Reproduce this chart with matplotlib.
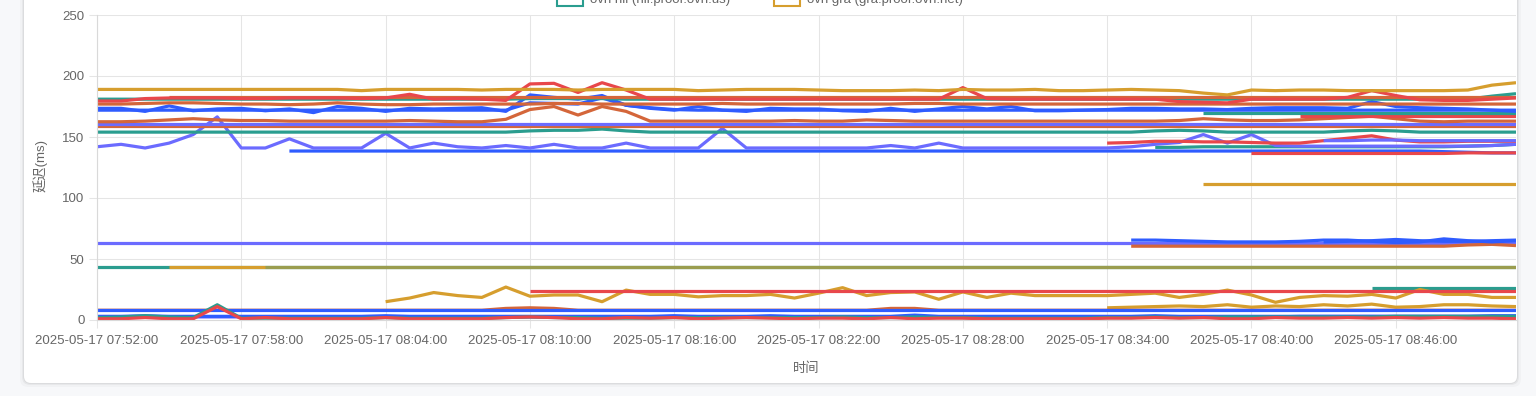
import numpy as np
import pandas as pd
import matplotlib
matplotlib.use("Agg")
import matplotlib.pyplot as plt
from matplotlib.patches import FancyBboxPatch, Rectangle
from matplotlib.transforms import IdentityTransform

plt.rcParams['font.family'] = ['Liberation Sans', 'Noto Sans CJK SC', 'DejaVu Sans']

# one sample per minute; series that start late are aligned to the right end
times = pd.date_range("2025-05-17 07:52:00", "2025-05-17 08:51:00", freq="min")
tick_labels = [t.strftime("%Y-%m-%d %H:%M:%S") for t in times]

legend_names = ["ovh hil (hil.proof.ovh.us)", "ovh gra (gra.proof.ovh.net)"]

GREEN = '#2a9d8f'
GOLD = '#d69e2e'
RED = '#e8474b'
ORANGE = '#d4663a'
BLUE = '#2f5cff'
PURPLE = '#6b6bff'

# ---- upper band (~135-195 ms) ----
gold_189 = [189, 189, 189, 189, 189, 189, 189, 189, 189, 189,
            189, 188, 189, 189, 189, 189, 188.5, 189, 189, 189,
            188.5, 189, 189, 189, 189, 188, 188.5, 189, 189, 189,
            188.5, 188, 188, 188, 188.5, 188, 189, 188.5, 188.5, 189,
            188, 188, 188.5, 189, 188.5, 188, 186, 184.5, 188.5, 188,
            188.5, 188.5, 188, 188, 188, 188, 188, 188.5, 192.5, 194.5]
red_181 = [179.5, 179.5, 181.5, 182, 182, 182, 181.5, 181.5, 182, 182,
           182, 181.5, 182, 185, 181, 181.5, 181, 180, 193.5, 194,
           186.5, 194.5, 188.5, 181, 181, 181, 181, 181, 181, 181,
           181, 181, 181, 181, 181, 181, 190.5, 181.5, 181, 181,
           181, 181, 181, 181, 181, 179, 178.5, 178, 181, 181,
           181, 181, 182.5, 188, 184, 180.5, 180, 180, 181, 182]
orange_183 = [182.5, 182.5, 182.5, 182.5, 182.5, 182.5, 182.5,
              182.5, 182.5, 182.5, 182.5, 182.5, 182.5, 182.5, 182.5, 182.5, 182.5,
              182.5, 182.5, 182.5, 182.5, 182.5, 182.5, 182.5, 182.5, 182.5, 182.5,
              182.5, 182.5, 182.5, 182.5, 182.5, 182.5, 182.5, 182.5, 182.5, 182.5,
              182.5, 182.5, 182.5, 182.5, 182.5, 182.5, 182.5, 182.5, 182.5, 182.5,
              182.5, 182.5, 182.5, 182.5, 182.5, 182.5, 182.5, 182.5, 182.5, 182.5]
green_181 = [181, 181, 181, 181, 181, 181, 181, 181, 181, 181,
             181, 181, 181, 181, 181, 181, 181, 181, 181.5, 181.5,
             181.5, 181.5, 181, 181, 181, 181, 181, 181, 181, 181,
             181, 181, 181, 181, 181, 181, 181, 181, 181, 181,
             181, 181, 181, 181, 181, 181, 181, 181, 181, 181,
             181, 181, 181, 181, 181, 181, 181, 181, 183.5, 185.5]
orange_177 = [177, 177, 177.5, 178, 178, 177.5, 177, 177, 176.5, 177,
              178, 177, 176.5, 176.5, 177, 177, 177, 177, 177, 177.5,
              177.5, 177, 177, 177, 177, 177, 177.5, 177, 177, 177,
              177, 177, 177, 177, 177.5, 177.5, 177, 177, 177, 177,
              177, 177, 177, 177, 177, 177, 177, 177, 177, 177,
              177, 177, 177, 177, 177, 177, 177, 177, 177, 177]
blue_174 = [173.5, 173.5, 171, 175.5, 171.5, 173, 173.5, 171.5, 173, 170,
            175, 173.5, 171, 173.5, 173, 173.5, 174, 171, 184.5, 182.5,
            181, 184, 176, 173.5, 172, 175, 172, 171, 173.5, 173,
            173, 171.5, 171, 173.5, 171, 173, 175, 173, 175, 171.5,
            171.5, 172, 172.5, 173.5, 173.5, 173, 173, 172.5, 173.5, 174,
            174, 174, 173.5, 179, 175, 174, 173.5, 173, 172, 171]
blue_172 = [172, 172, 172, 172, 172, 172, 172, 172, 172, 172,
            172, 172, 172, 172, 172, 172, 172, 172, 178, 177.5,
            177, 182, 176, 174, 172.5, 172, 172, 172, 172, 172,
            172, 172, 172, 172, 172, 172, 172, 172, 172, 172,
            172, 172, 172, 172, 172, 172, 172, 172, 172, 172,
            172, 172, 172, 172, 172, 172, 172, 172, 172, 172]
orange_163 = [162.5, 162.5, 163, 164, 165, 164, 163.5, 163.5, 163, 163,
              163, 163, 163, 163.5, 163, 162.5, 162.5, 164.5, 172.5, 175,
              168, 175, 171, 163, 163, 163, 163, 163, 163, 163.5,
              163, 163, 164, 163.5, 163, 163, 163, 163, 163, 163,
              163, 163, 163, 163, 163, 163.5, 165, 164, 163.5, 163.5,
              164, 165, 166, 167, 165, 163, 162.5, 163, 163, 163]
orange_159 = [159, 159, 159, 159, 159, 159, 159, 159, 159, 159,
              159, 159, 159, 159, 159, 159, 159, 159, 159, 159,
              159, 159, 159, 159, 159, 159, 159, 159, 159, 159,
              159, 159, 159, 159, 159, 159, 159, 159, 159, 159,
              159, 159, 159, 159, 159, 159, 159, 159, 159, 159,
              159, 159, 159, 159, 159, 159, 159, 159, 159, 159]
purple_161 = [161, 161, 161, 161, 161, 161, 161, 161, 161, 161,
              161, 161, 161, 161, 161, 161, 161, 161, 161, 161,
              161, 161, 161, 161, 161, 161, 161, 161, 161, 161,
              161, 161, 161, 161, 161, 161, 161, 161, 161, 161,
              161, 161, 161, 161, 161, 161, 161, 161, 161, 161,
              161, 161, 161, 161, 161, 161, 161, 161, 161, 161]
green_154 = [154, 154, 154, 154, 154, 154, 154, 154, 154, 154,
             154, 154, 154, 154, 154, 154, 154, 154, 155, 155.5,
             155.5, 156.5, 155, 154, 154, 154, 154, 154, 154, 154,
             154, 154, 154, 154, 154, 154, 154, 154, 154, 154,
             154, 154, 154, 154, 155, 155.5, 155, 154, 154, 154,
             154, 154, 155, 155.5, 155, 154, 154, 154, 154, 154]
purple_142 = [142, 144, 141, 145, 152, 166.5, 141, 141, 148.5, 141,
              141, 141, 153, 141, 145, 142, 141, 143, 141, 144,
              141, 141, 145, 141, 141, 141, 157, 141, 141, 141,
              141, 141, 141, 143, 141, 145, 141, 141, 141, 141,
              141, 141, 141, 142, 144, 145.5, 152, 145, 152, 143,
              142.5, 142.5, 142.5, 142.5, 142.5, 142.5, 142.5, 142.5, 143, 144]
blue_139 = [138.5, 138.5, 138.5, 138.5, 138.5, 138.5, 138.5, 138.5, 138.5, 138.5,
            138.5, 138.5, 138.5, 138.5, 138.5, 138.5, 138.5, 138.5, 138.5, 138.5,
            138.5, 138.5, 138.5, 138.5, 138.5, 138.5, 138.5, 138.5, 138.5, 138.5,
            138.5, 138.5, 138.5, 138.5, 138.5, 138.5, 138.5, 138.5, 138.5, 138.5,
            138.5, 138.5, 138.5, 138.5, 138.5, 138.5, 138.5, 138.5, 138, 137.5,
            137, 137]
red_146 = [145, 145.5, 146.5, 146.5, 146, 146, 145.5, 145, 145, 147,
           149, 151, 147.5, 146, 146, 146.5, 146.5, 146.5]
green_142 = [141.5, 141.5, 142, 142, 142, 142, 142, 142, 142, 142,
             142, 142, 142, 142.5, 143, 144]
red_137 = [136.5, 136.5, 136.5, 136.5, 136.5, 136.5, 136.5, 136.5, 136.5, 137, 137, 137]
gold_112 = [111.5, 111.5, 111.5, 111.5, 111.5, 111.5, 111.5,
            111.5, 111.5, 111.5, 111.5, 111.5, 111.5, 111.5]
green_170 = [170, 170, 170, 170, 170, 170, 170, 170, 170, 170, 170, 170, 170, 170]
red_167 = [167, 167, 167, 167, 167, 167, 167, 167, 167, 167]
purple_147 = [147, 147, 147.5, 147.5, 147, 147, 147, 147, 147]

# ---- lower band (0-70 ms) ----
purple_64 = [63.5, 63.5, 63.5, 63.5, 63.5, 63.5, 63.5, 63.5, 63.5, 63.5,
             63.5, 63.5, 63.5, 63.5, 63.5, 63.5, 63.5, 63.5, 63.5, 63.5,
             63.5, 63.5, 63.5, 63.5, 63.5, 63.5, 63.5, 63.5, 63.5, 63.5,
             63.5, 63.5, 63.5, 63.5, 63.5, 63.5, 63.5, 63.5, 63.5, 63.5,
             63.5, 63.5, 63.5, 63.5, 63.5, 63.5, 63.5, 63.5, 63.5, 63.5,
             63.5, 63.5, 63.5, 63.5, 63.5, 63.5, 63.5, 63.5, 63.5, 63.5]
blue_65 = [65.5, 65.5, 65, 64.5, 64, 64, 64, 64.5, 65.5, 65.5,
           64.5, 63.5, 64, 66.5, 65, 64, 65]
blue_65b = [64, 64.5, 65, 66, 65, 64.5, 64.5, 65, 65.5]
orange_61 = [60.5, 60.5, 60.5, 60.5, 60.5, 60.5, 60.5, 60.5, 60.5, 60.5,
             60.5, 60.5, 60.5, 60.5, 61.5, 62, 61]
green_44 = [43.5, 43.5, 43.5, 43.5, 43.5, 43.5, 43.5, 43.5, 43.5, 43.5,
            43.5, 43.5, 43.5, 43.5, 43.5, 43.5, 43.5, 43.5, 43.5, 43.5,
            43.5, 43.5, 43.5, 43.5, 43.5, 43.5, 43.5, 43.5, 43.5, 43.5,
            43.5, 43.5, 43.5, 43.5, 43.5, 43.5, 43.5, 43.5, 43.5, 43.5,
            43.5, 43.5, 43.5, 43.5, 43.5, 43.5, 43.5, 43.5, 43.5, 43.5,
            43.5, 43.5, 43.5, 43.5, 43.5, 43.5, 43.5, 43.5, 43.5, 43.5]
gold_44 = [43.5, 43.5, 43.5, 43.5, 43.5, 43.5, 43.5,
           43.5, 43.5, 43.5, 43.5, 43.5, 43.5, 43.5, 43.5, 43.5, 43.5,
           43.5, 43.5, 43.5, 43.5, 43.5, 43.5, 43.5, 43.5, 43.5, 43.5,
           43.5, 43.5, 43.5, 43.5, 43.5, 43.5, 43.5, 43.5, 43.5, 43.5,
           43.5, 43.5, 43.5, 43.5, 43.5, 43.5, 43.5, 43.5, 43.5, 43.5,
           43.5, 43.5, 43.5, 43.5, 43.5, 43.5, 43.5, 43.5, 43.5, 43.5]
green_44_late = [43.5, 43.5, 43.5,
                 43.5, 43.5, 43.5, 43.5, 43.5, 43.5, 43.5, 43.5, 43.5, 43.5,
                 43.5, 43.5, 43.5, 43.5, 43.5, 43.5, 43.5, 43.5, 43.5, 43.5,
                 43.5, 43.5, 43.5, 43.5, 43.5, 43.5, 43.5, 43.5, 43.5, 43.5,
                 43.5, 43.5, 43.5, 43.5, 43.5, 43.5, 43.5, 43.5, 43.5, 43.5,
                 43.5, 43.5, 43.5, 43.5, 43.5, 43.5, 43.5, 43.5, 43.5, 43.5]
green_27 = [26.5, 26.5, 26.5, 26.5, 26.5, 26.5, 26.5]
red_24 = [23.5, 23.5,
          23.5, 23.5, 23.5, 23.5, 23.5, 23.5, 23.5, 23.5, 23.5, 23.5,
          23.5, 23.5, 23.5, 23.5, 23.5, 23.5, 23.5, 23.5, 23.5, 23.5,
          23.5, 23.5, 23.5, 23.5, 23.5, 23.5, 23.5, 23.5, 23.5, 23.5,
          23.5, 23.5, 23.5, 23.5, 23.5, 23.5, 23.5, 23.5, 23.5, 23.5]
gold_20 = [15, 18, 22.5, 20, 18.5, 27, 19.5, 20.5,
           20.5, 15, 24.5, 21, 21, 19, 20, 20, 21, 18,
           22, 26.5, 20, 22.5, 23, 17, 23, 18.5, 22, 20,
           20, 20, 20, 21, 22, 18.5, 21, 24.5, 20.5, 14.5,
           18.5, 20, 19.5, 21, 18, 25, 21, 21, 18.5, 18.5]
gold_11 = [10, 10.5, 11, 11.5, 11, 12.5, 10.5, 11.5, 11, 12.5,
           11.5, 13, 10.5, 11, 12.5, 12.5, 11.5, 11]
orange_8 = [8, 8, 8, 8, 8, 8, 8, 8, 8, 8,
            8, 8, 8, 8, 8, 8, 8, 9.5, 10, 9.5,
            8, 8, 8, 8, 8, 8, 8, 8, 8, 8,
            8, 8, 8, 9.5, 9.5, 8, 8, 8, 8, 8,
            8, 8, 8, 8, 8, 8, 8, 8, 8, 8,
            8, 8, 8, 8, 8, 8, 8, 8, 8, 8]
blue_8 = [8, 8, 8, 8, 8, 8, 8, 8, 8, 8,
          8, 8, 8, 8, 8, 8, 8, 8, 8, 8,
          8, 8, 8, 8, 8, 8, 8, 8, 8, 8,
          8, 8, 8, 8, 8, 8, 8, 8, 8, 8,
          8, 8, 8, 8, 8, 8, 8, 8, 8, 8,
          8, 8, 8, 8, 8, 8, 8, 8, 8, 8]
purple_low = [2.5, 2.5, 2.5, 2.5, 2.5, 2.5, 2.5, 2.5, 2.5, 2.5,
              2.5, 2.5, 2.5, 2.5, 2.5, 2.5, 2.5, 2.5, 2.5, 2.5,
              2.5, 2.5, 2.5, 2.5, 3, 2.5, 2.5, 2.5, 2.5, 2.5,
              2.5, 2.5, 2.5, 2.5, 2.5, 2.5, 2.5, 2.5, 2.5, 2.5,
              2.5, 2.5, 2.5, 2.5, 2.5, 2.5, 2.5, 2.5, 2.5, 2.5,
              3, 3, 3, 3, 3, 3, 3, 3, 3, 3]
blue_low = [3, 3, 3.5, 3, 3, 3, 3, 3, 3, 3,
            3, 3, 3.5, 3, 3, 3, 3, 3, 3, 3,
            3, 3, 3, 3, 3.5, 3, 3, 3, 3.5, 3,
            3, 3, 3, 3, 4, 3, 3, 3, 3, 3,
            3, 3, 3, 3, 3.5, 3, 3, 3, 3, 3,
            3, 3, 3, 3, 3, 3, 3, 3, 3.5, 3.5]
green_low = [2, 2.5, 3.5, 2.5, 2, 12.5, 1.5, 1.5, 1.5, 1.5,
             1.5, 1.5, 2, 1.5, 1.5, 1.5, 1.5, 2, 2.5, 2,
             2, 1.5, 1.5, 1.5, 2, 2, 2, 2, 2, 2,
             2, 2.5, 2, 2, 2.5, 2, 2, 1.5, 1.5, 1.5,
             1.5, 1.5, 2, 2, 2.5, 2, 2, 2.5, 2.5, 2.5,
             2.5, 2.5, 2.5, 2.5, 3, 3, 3, 3, 3, 3]
red_low = [1, 1, 2, 1, 1, 11, 1, 2, 1, 1,
           1, 1, 2, 1, 1, 1, 1, 2, 2.5, 2,
           1, 1, 2, 1.5, 2, 1, 1.5, 2, 1.5, 1,
           1.5, 1.5, 1, 2, 1, 1.5, 1.5, 1, 1, 1,
           1, 1, 1.5, 1.5, 2, 1.5, 2, 1, 1, 2,
           1.5, 1.5, 2, 1.5, 2, 1.5, 2, 1.5, 1.5, 1]

lines = [
    (purple_64, PURPLE, 1), (orange_61, ORANGE, 1), (blue_65, BLUE, 1), (blue_65b, BLUE, 1),
    (green_44, GREEN, 1), (gold_44, GOLD, 1), (green_44_late, GREEN, 0.35),
    (green_27, GREEN, 1), (gold_20, GOLD, 1), (red_24, RED, 1), (gold_11, GOLD, 1),
    (orange_8, ORANGE, 1), (blue_8, BLUE, 1),
    (purple_low, PURPLE, 1), (blue_low, BLUE, 1), (green_low, GREEN, 1), (red_low, RED, 1),
    (gold_112, GOLD, 1),
    (blue_139, BLUE, 1), (red_137, RED, 1), (green_142, GREEN, 1), (purple_142, PURPLE, 1),
    (red_146, RED, 1), (purple_147, PURPLE, 1),
    (green_154, GREEN, 1), (orange_159, ORANGE, 1), (purple_161, PURPLE, 1), (orange_163, ORANGE, 1),
    (red_167, RED, 1), (green_170, GREEN, 1),
    (blue_172, BLUE, 1), (blue_174, BLUE, 1), (orange_177, ORANGE, 1),
    (green_181, GREEN, 1), (orange_183, ORANGE, 1), (red_181, RED, 1), (gold_189, GOLD, 1),
]

W, H = 1536, 396
FS = 9.5
fig = plt.figure(figsize=(W / 100, H / 100), dpi=100, facecolor='#f7f8fa')

# card with soft shadow, drawn below the axes
for grow, a in [(4, 0.025), (2, 0.04), (1, 0.05)]:
    fig.patches.append(FancyBboxPatch((24 - grow, 13 - grow), 1493 + 2 * grow, 420,
                                      boxstyle="round,pad=0,rounding_size=8",
                                      transform=IdentityTransform(), fc='black', ec='none',
                                      alpha=a, zorder=-2))
fig.patches.append(FancyBboxPatch((24, 13), 1493, 420, boxstyle="round,pad=0,rounding_size=7",
                                  transform=IdentityTransform(), fc='white', ec='none', zorder=-1))

ax = fig.add_axes([97 / W, 76 / H, (1516 - 97) / W, 305 / H])
ax.set_facecolor('none')
ax.set_zorder(1)

n = len(times)
idx = np.arange(n)
for vals, color, a in lines:
    ax.plot(idx[n - len(vals):], vals, color=color, lw=2.3, alpha=a,
            solid_joinstyle='round', solid_capstyle='butt')

ax.set_xlim(0, n - 1)
ax.set_ylim(0, 250)
ax.set_yticks(np.arange(0, 251, 50))
xt = idx[::6]
ax.set_xticks(xt)
ax.set_xticklabels([tick_labels[i] for i in xt])
ax.grid(True, color='#e5e5e5', lw=0.75)
ax.set_axisbelow(True)
ax.tick_params(axis='both', colors='#e5e5e5', labelcolor='#666666', labelsize=FS, length=6, width=0.75)
ax.tick_params(axis='x', pad=5)
ax.tick_params(axis='y', pad=3)
for s in ['top', 'right']:
    ax.spines[s].set_visible(False)
for s in ['left', 'bottom']:
    ax.spines[s].set_color('#d9d9d9')
    ax.spines[s].set_linewidth(0.8)

fig.text(806 / W, 1 - 369 / H, "时间", ha='center', va='center', color='#666666', fontsize=FS)
fig.text(40 / W, 1 - 165 / H, "延迟(ms)", ha='center', va='center', rotation=90,
         color='#666666', fontsize=FS)

# last row of the legend, cut off by the top edge
for name, color, bx in [(legend_names[0], GREEN, 557), (legend_names[1], GOLD, 774)]:
    fig.patches.append(Rectangle((bx, H - 6), 26, 14, transform=IdentityTransform(),
                                 fc='white', ec=color, lw=1.5, zorder=2))
    fig.text((bx + 33) / W, 1 + 0.5 / H, name, ha='left', va='center', color='#666666',
             fontsize=FS, zorder=3)

fig.savefig('out.png', dpi=100, facecolor=fig.get_facecolor())
